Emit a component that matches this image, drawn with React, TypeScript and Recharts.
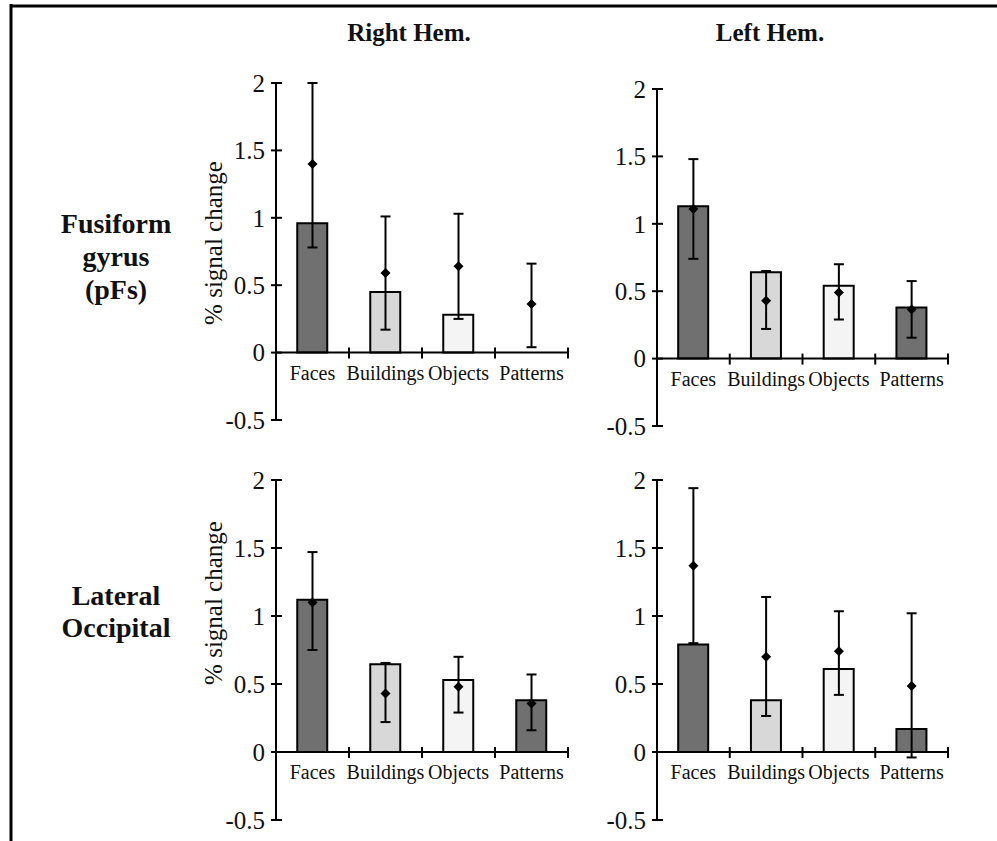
import React from "react";
import { Bar, Cell, ComposedChart, ErrorBar, ReferenceLine, Scatter, XAxis, YAxis } from "recharts";

const categories = ["Faces", "Buildings", "Objects", "Patterns"];
const barColors = ["#707070", "#d8d8d8", "#f4f4f4", "#707070"];
const yTicks = [-0.5, 0, 0.5, 1, 1.5, 2];
const boundaries = [1, 2, 3, 4];

// Fusiform gyrus (pFs), right hemisphere
const pfsRightBars = [0.96, 0.45, 0.28, null];
const pfsRightMeans = [1.4, 0.59, 0.64, 0.36];
const pfsRightLow = [0.78, 0.17, 0.25, 0.04];
const pfsRightHigh = [2.0, 1.01, 1.03, 0.66];

// Fusiform gyrus (pFs), left hemisphere
const pfsLeftBars = [1.13, 0.64, 0.54, 0.38];
const pfsLeftMeans = [1.11, 0.43, 0.49, 0.365];
const pfsLeftLow = [0.74, 0.22, 0.29, 0.155];
const pfsLeftHigh = [1.48, 0.65, 0.7, 0.575];

// Lateral occipital, right hemisphere
const loRightBars = [1.12, 0.645, 0.53, 0.38];
const loRightMeans = [1.1, 0.43, 0.48, 0.356];
const loRightLow = [0.75, 0.22, 0.29, 0.16];
const loRightHigh = [1.47, 0.655, 0.7, 0.57];

// Lateral occipital, left hemisphere
const loLeftBars = [0.79, 0.38, 0.61, 0.17];
const loLeftMeans = [1.37, 0.7, 0.74, 0.485];
const loLeftLow = [0.8, 0.265, 0.42, -0.04];
const loLeftHigh = [1.94, 1.14, 1.035, 1.02];

const FONT = "Liberation Serif";

function buildRows(bars: (number | null)[], means: number[], low: number[], high: number[]) {
  return categories.map((name, i) => ({
    name,
    pos: i + 0.5,
    bar: bars[i],
    mean: means[i],
    err: [means[i] - low[i], high[i] - means[i]],
  }));
}

const Diamond = (p: any) => (
  <polygon
    points={`${p.cx},${p.cy - 5} ${p.cx + 5},${p.cy} ${p.cx},${p.cy + 5} ${p.cx - 5},${p.cy}`}
    fill="#000"
  />
);

const AxisMark = (p: any) => (
  <line x1={p.cx} x2={p.cx} y1={p.cy - 5} y2={p.cy + 6} stroke="#000" strokeWidth={2} />
);

const CategoryLabel = (p: any) => (
  <text x={p.cx} y={p.cy + 27} textAnchor="middle" fontSize={20} fontFamily={FONT} fill="#111">
    {p.payload.name}
  </text>
);

const YTick = (p: any) => (
  <g>
    <line x1={p.x - 5} x2={p.x + 6} y1={p.y} y2={p.y} stroke="#000" strokeWidth={2} />
    <text x={p.x - 11} y={p.y} dy="0.35em" textAnchor="end" fontSize={25} fontFamily={FONT} fill="#111">
      {p.payload.value}
    </text>
  </g>
);

type PanelProps = {
  left: number;
  top: number;
  width: number;
  height: number;
  rows: ReturnType<typeof buildRows>;
};

function Panel({ left, top, width, height, rows }: PanelProps) {
  const labelRows = rows.map((r) => ({ pos: r.pos, name: r.name }));
  const markRows = boundaries.map((b) => ({ pos: b }));
  return (
    <div style={{ position: "absolute", left: left - 80, top: top - 20 }}>
      <ComposedChart
        width={width + 110}
        height={height + 40}
        data={rows}
        margin={{ top: 20, right: 30, bottom: 20, left: 0 }}
      >
        <XAxis type="number" dataKey="pos" domain={[0, 4]} hide />
        <YAxis
          type="number"
          domain={[-0.5, 2]}
          ticks={yTicks}
          width={80}
          tickSize={0}
          tickMargin={0}
          tick={<YTick />}
          axisLine={{ stroke: "#000", strokeWidth: 2 }}
        />
        <ReferenceLine y={0} stroke="#000" strokeWidth={2} />
        <Bar dataKey="bar" barSize={30} stroke="#000" strokeWidth={2} isAnimationActive={false}>
          {rows.map((r, i) => (
            <Cell key={r.name} fill={barColors[i]} />
          ))}
        </Bar>
        <Scatter data={markRows} dataKey={() => 0} shape={<AxisMark />} isAnimationActive={false} />
        <Scatter data={labelRows} dataKey={() => 0} shape={<CategoryLabel />} isAnimationActive={false} />
        <Scatter data={rows} dataKey="mean" shape={<Diamond />} isAnimationActive={false}>
          <ErrorBar dataKey="err" direction="y" width={5} stroke="#000" strokeWidth={2} />
        </Scatter>
      </ComposedChart>
    </div>
  );
}

export default function App() {
  const boldText = { fontFamily: FONT, fontWeight: 700, fill: "#111" } as const;
  return (
    <div style={{ position: "absolute", left: 0, top: 0, width: 997, height: 841, background: "#fff" }}>
      <svg width={997} height={841} style={{ position: "absolute", left: 0, top: 0 }}>
        <line x1={11} y1={4} x2={11} y2={841} stroke="#000" strokeWidth={3} />
        <line x1={10} y1={6} x2={997} y2={6} stroke="#000" strokeWidth={3} />
        <text x={409} y={41} textAnchor="middle" fontSize={25} {...boldText}>Right Hem.</text>
        <text x={770} y={41} textAnchor="middle" fontSize={25} {...boldText}>Left Hem.</text>
        <text x={116} y={233} textAnchor="middle" fontSize={28} {...boldText}>Fusiform</text>
        <text x={116} y={266} textAnchor="middle" fontSize={28} {...boldText}>gyrus</text>
        <text x={116} y={299} textAnchor="middle" fontSize={28} {...boldText}>(pFs)</text>
        <text x={116} y={605} textAnchor="middle" fontSize={28} {...boldText}>Lateral</text>
        <text x={116} y={637} textAnchor="middle" fontSize={28} {...boldText}>Occipital</text>
        <text x={222} y={243} transform="rotate(-90 222 243)" textAnchor="middle" fontSize={25} fontFamily={FONT} fill="#111">
          % signal change
        </text>
        <text x={222} y={603} transform="rotate(-90 222 603)" textAnchor="middle" fontSize={25} fontFamily={FONT} fill="#111">
          % signal change
        </text>
      </svg>
      <Panel left={276} top={83} width={292} height={337} rows={buildRows(pfsRightBars, pfsRightMeans, pfsRightLow, pfsRightHigh)} />
      <Panel left={657} top={89} width={291} height={337} rows={buildRows(pfsLeftBars, pfsLeftMeans, pfsLeftLow, pfsLeftHigh)} />
      <Panel left={276} top={480} width={292} height={340} rows={buildRows(loRightBars, loRightMeans, loRightLow, loRightHigh)} />
      <Panel left={657} top={480} width={291} height={340} rows={buildRows(loLeftBars, loLeftMeans, loLeftLow, loLeftHigh)} />
    </div>
  );
}
